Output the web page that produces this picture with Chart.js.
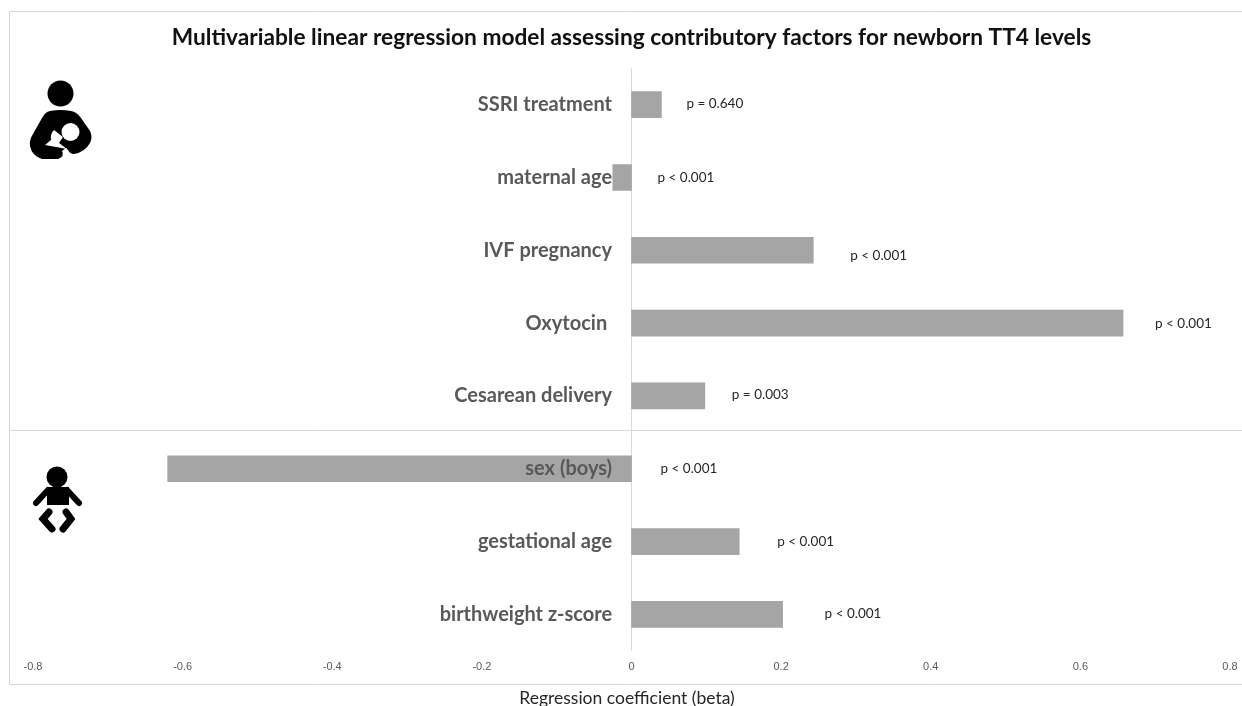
<!DOCTYPE html>
<html>
<head>
<meta charset="utf-8">
<title>Newborn TT4 regression</title>
<script src="https://cdn.jsdelivr.net/npm/chart.js@4"></script>
<style>
    html, body { margin: 0; padding: 0; background: #fff; }
    canvas { display: block; }
</style>
</head>
<body>
<canvas id="chart" width="1242" height="706"></canvas>
<script>
const titleText = 'Multivariable linear regression model assessing contributory factors for newborn TT4 levels';
const axisTitle = 'Regression coefficient (beta)';
const categories = ['SSRI treatment', 'maternal age', 'IVF pregnancy', 'Oxytocin', 'Cesarean delivery', 'sex (boys)', 'gestational age', 'birthweight z-score'];
const betas = [0.04, -0.025, 0.243, 0.657, 0.098, -0.62, 0.144, 0.202];
const pLabels = ['p = 0.640', 'p < 0.001', 'p < 0.001', 'p < 0.001', 'p = 0.003', 'p < 0.001', 'p < 0.001', 'p < 0.001'];

// gap between the end of each bar and its p value, the original ones were placed by hand
const pGapX = [25, 26, 37, 32, 27, 29, 38, 42];
const pGapY = [-1, 0, 5, 1, -1, 0, 0, -1];

const FRAME = '#d9d9d9';

// frame and the line between the mother and baby groups
const framePlugin = {
    id: 'frame',
    beforeDraw(chart) {
        const ctx = chart.ctx;
        ctx.save();
        ctx.strokeStyle = FRAME;
        ctx.lineWidth = 1;
        ctx.beginPath();
        ctx.moveTo(1242, 11.5);
        ctx.lineTo(9.5, 11.5);
        ctx.lineTo(9.5, 684.5);
        ctx.lineTo(1242, 684.5);
        ctx.moveTo(9.5, 430.5);
        ctx.lineTo(1242, 430.5);
        ctx.stroke();
        ctx.restore();
    }
};

// p values next to the bars
const pValuePlugin = {
    id: 'pValues',
    afterDatasetsDraw(chart) {
        const ctx = chart.ctx;
        const x = chart.scales.x;
        const y = chart.scales.y;
        ctx.save();
        ctx.font = '13.5px Lato';
        ctx.fillStyle = '#262626';
        ctx.textBaseline = 'middle';
        pLabels.forEach((label, i) => {
            const barEnd = x.getPixelForValue(Math.max(betas[i], 0));
            ctx.fillText(label, barEnd + pGapX[i], y.getPixelForValue(i) + pGapY[i]);
        });
        ctx.restore();
    }
};

function drawMother(ctx) {
    ctx.beginPath();
    ctx.arc(60.5, 93.5, 13, 0, Math.PI * 2);
    ctx.fill();
    // body and arms
    ctx.beginPath();
    ctx.moveTo(50, 111);
    ctx.quadraticCurveTo(60, 109, 71, 111);
    ctx.quadraticCurveTo(77, 112, 81, 118);
    ctx.lineTo(90, 131);
    ctx.quadraticCurveTo(93, 137, 90, 143);
    ctx.quadraticCurveTo(85, 152, 74, 154);
    ctx.quadraticCurveTo(70, 154, 68, 150);
    ctx.lineTo(66, 148);
    ctx.lineTo(62, 151);
    ctx.quadraticCurveTo(65, 156, 58, 159);
    ctx.lineTo(42, 159);
    ctx.quadraticCurveTo(32, 156, 30, 146);
    ctx.quadraticCurveTo(29, 140, 33, 134);
    ctx.lineTo(42, 118);
    ctx.quadraticCurveTo(45, 112, 50, 111);
    ctx.closePath();
    ctx.fill();
    // baby in the arm, cut out in white
    ctx.fillStyle = '#fff';
    ctx.beginPath();
    ctx.arc(70.5, 132, 9, 0, Math.PI * 2);
    ctx.fill();
    ctx.beginPath();
    ctx.moveTo(54, 130);
    ctx.quadraticCurveTo(50, 134, 51, 140);
    ctx.lineTo(45, 145);
    ctx.lineTo(67, 149);
    ctx.lineTo(59, 143);
    ctx.lineTo(63, 137);
    ctx.closePath();
    ctx.fill();
    ctx.fillStyle = '#000';
}

function drawBaby(ctx) {
    ctx.beginPath();
    ctx.arc(57, 477, 10.5, 0, Math.PI * 2);
    ctx.fill();
    ctx.fillRect(47, 487, 22, 18);
    ctx.lineCap = 'round';
    ctx.lineWidth = 6;
    ctx.beginPath();
    ctx.moveTo(48, 490);
    ctx.lineTo(36, 503);
    ctx.moveTo(67, 490);
    ctx.lineTo(79, 503);
    ctx.stroke();
    // legs
    ctx.lineCap = 'round';
    ctx.lineJoin = 'miter';
    ctx.lineWidth = 7;
    ctx.beginPath();
    ctx.moveTo(49, 512);
    ctx.lineTo(43, 519);
    ctx.lineTo(52, 529);
    ctx.moveTo(66, 512);
    ctx.lineTo(71, 519);
    ctx.lineTo(63, 529);
    ctx.stroke();
}

const iconPlugin = {
    id: 'icons',
    afterDraw(chart) {
        const ctx = chart.ctx;
        ctx.save();
        ctx.fillStyle = '#000';
        ctx.strokeStyle = '#000';
        drawMother(ctx);
        drawBaby(ctx);
        ctx.restore();
    }
};

new Chart(document.getElementById('chart').getContext('2d'), {
    type: 'bar',
    data: {
        labels: categories,
        datasets: [{
            data: betas,
            backgroundColor: '#a5a5a5',
            barThickness: 26
        }]
    },
    options: {
        indexAxis: 'y',
        responsive: false,
        animation: false,
        layout: { padding: { left: 33, right: 12, top: 10, bottom: -3 } },
        scales: {
            x: {
                min: -0.8,
                max: 0.8,
                grid: { display: false },
                border: { display: false },
                ticks: {
                    stepSize: 0.2,
                    maxRotation: 0,
                    padding: 2,
                    color: '#595959',
                    font: { family: '"Liberation Sans"', size: 11 },
                    callback: v => String(Math.round(v * 10) / 10)
                },
                title: {
                    display: true,
                    // trailing spaces pull the centred title a little left of zero, like the original
                    text: axisTitle + '  ',
                    color: '#262626',
                    font: { family: 'Lato', size: 17.5 },
                    padding: { top: 12, bottom: 0 }
                }
            },
            y: {
                position: { x: 0 },
                grid: { display: false, drawTicks: false },
                border: { display: true, color: FRAME, width: 1 },
                ticks: {
                    autoSkip: false,
                    z: 1,
                    color: '#595959',
                    font: { family: 'Lato', size: 20, weight: 'bold' },
                    // an axis placed at zero ignores ticks.padding, so the gap comes from trailing spaces
                    callback: function(v) {
                        const label = this.getLabelForValue(v);
                        return label + (label === 'Oxytocin' ? ' '.repeat(5) : ' '.repeat(4));
                    }
                }
            }
        },
        plugins: {
            legend: { display: false },
            tooltip: { enabled: false },
            title: {
                display: true,
                text: titleText,
                color: '#111',
                font: { family: 'Lato', size: 22.7, weight: 'bold' },
                padding: { top: 14, bottom: 17 }
            }
        }
    },
    plugins: [framePlugin, pValuePlugin, iconPlugin]
});
</script>
</body>
</html>
